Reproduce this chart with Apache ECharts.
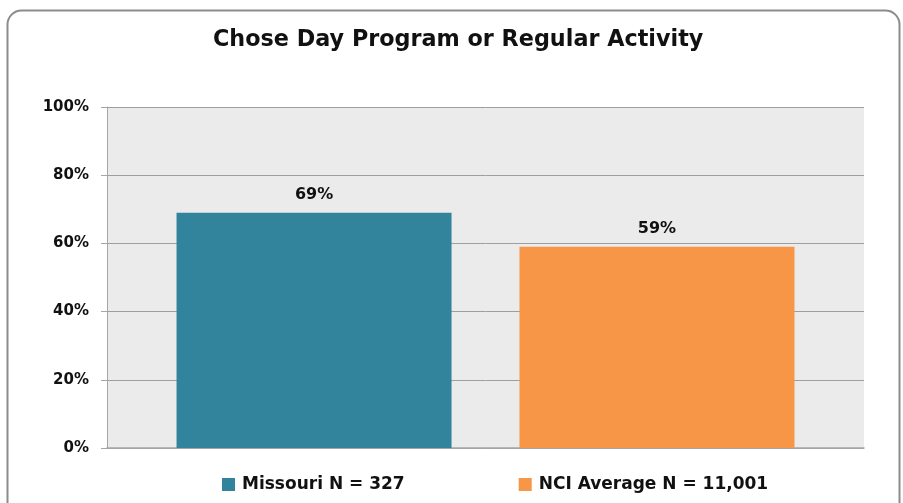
<!DOCTYPE html>
<html>
<head>
<meta charset="utf-8">
<script src="https://cdn.jsdelivr.net/npm/echarts@6/dist/echarts.min.js"></script>
<style>html,body{margin:0;padding:0;background:#fff;}#c{width:903px;height:503px;}</style>
</head>
<body>
<div id="c"></div>
<script>
const titleText = "Chose Day Program or Regular Activity";
const categories = ["Chose Day Program or Regular Activity"];
const seriesNames = ["Missouri N = 327", "NCI Average N = 11,001"];
const missouriValues = [69];
const nciValues = [59];
const yTicks = [0, 20, 40, 60, 80, 100];

const FONT = "'DejaVu Sans', sans-serif";
const chart = echarts.init(document.getElementById('c'), null, {renderer: 'canvas'});
chart.setOption({
  animation: false,
  backgroundColor: '#fff',
  title: {
    text: titleText, left: 208, top: 24,
    textStyle: {fontFamily: FONT, fontWeight: 'bold', fontSize: 22.3, color: '#111'}
  },
  graphic: [{
    type: 'rect', left: 5, top: 8, z: -1,
    shape: {width: 892, height: 510, r: 14},
    style: {fill: 'none', stroke: '#8c8c8c', lineWidth: 2}
  }],
  legend: {
    top: 471, left: 217, itemGap: 114,
    icon: 'rect', itemWidth: 13, itemHeight: 13,
    textStyle: {fontFamily: FONT, fontWeight: 'bold', fontSize: 17, color: '#111', padding: [0, 0, 0, 2]},
    data: seriesNames
  },
  grid: {left: 107, right: 39, top: 107, bottom: 55, show: true, backgroundColor: '#ebebeb', borderWidth: 0},
  xAxis: {
    type: 'category', data: categories,
    axisLine: {lineStyle: {color: '#a6a6a6', width: 1.5}},
    axisTick: {show: false}, axisLabel: {show: false}
  },
  yAxis: {
    type: 'value', min: yTicks[0], max: yTicks[yTicks.length - 1], interval: 20,
    axisLine: {show: true, lineStyle: {color: '#a6a6a6'}},
    axisTick: {show: true, length: 6, lineStyle: {color: '#a6a6a6'}},
    splitLine: {lineStyle: {color: '#9e9e9e', width: 1}},
    axisLabel: {
      formatter: v => v + '%', margin: 18,
      fontFamily: FONT, fontWeight: 'bold', fontSize: 15, color: '#111'
    }
  },
  series: [
    {
      name: seriesNames[0], type: 'bar', data: missouriValues, barWidth: 275, barGap: '24.7%',
      itemStyle: {color: '#31849b'},
      label: {show: true, position: 'top', distance: 10, formatter: p => p.value + '%',
        fontFamily: FONT, fontWeight: 'bold', fontSize: 16, color: '#111'}
    },
    {
      name: seriesNames[1], type: 'bar', data: nciValues, barWidth: 275,
      itemStyle: {color: '#f79646'},
      label: {show: true, position: 'top', distance: 10, formatter: p => p.value + '%',
        fontFamily: FONT, fontWeight: 'bold', fontSize: 16, color: '#111'}
    }
  ]
});
</script>
</body>
</html>
